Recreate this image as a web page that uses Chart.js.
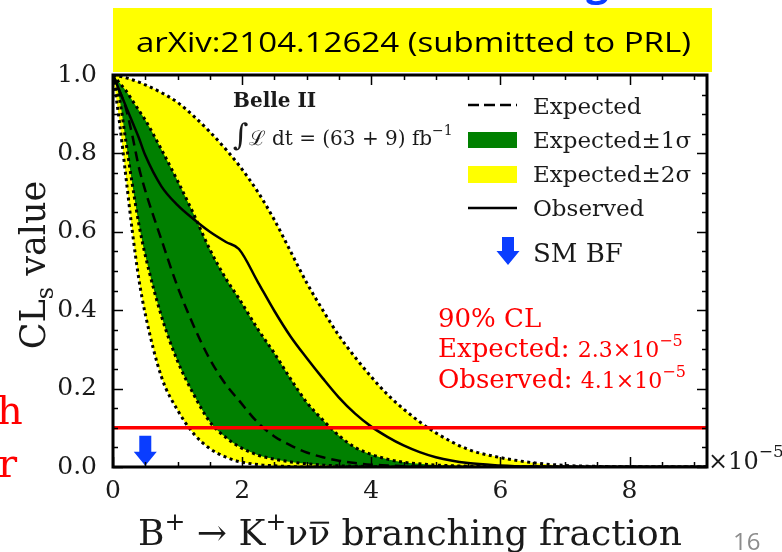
<!DOCTYPE html>
<html><head><meta charset="utf-8">
<script src="https://cdn.jsdelivr.net/npm/chart.js@4.4.1/dist/chart.umd.min.js"></script>
<style>
html,body{margin:0;padding:0;background:#fff;width:782px;height:552px;overflow:hidden;}
canvas{position:absolute;left:0;top:0;}
</style></head>
<body>
<canvas id="c" width="782" height="552"></canvas>
<script>
// ---- data (branching fraction in units of 1e-5) ----
const bf    = [0,0.1,0.2,0.3,0.4,0.5,0.75,1.0,1.25,1.5,1.75,1.95,2.25,2.5,2.75,3.0,3.25,3.5,3.75,4.0,4.25,4.5,4.75,5.0,5.5,6.0,6.5,7.0,7.5,8.0,9.2];
const lo2   = [1.0,0.88,0.74,0.60,0.48,0.39,0.23,0.145,0.085,0.047,0.025,0.014,0.006,0.003,0.001,0,0,0,0,0,0,0,0,0,0,0,0,0,0,0,0];
const lo1   = [1.0,0.94,0.83,0.72,0.62,0.54,0.385,0.27,0.185,0.115,0.075,0.052,0.03,0.02,0.013,0.008,0.005,0.003,0.002,0.001,0,0,0,0,0,0,0,0,0,0,0];
const expd  = [1.0,0.96,0.915,0.845,0.765,0.705,0.58,0.46,0.36,0.275,0.21,0.17,0.112,0.078,0.055,0.037,0.025,0.016,0.01,0.006,0.004,0.002,0.001,0.0005,0,0,0,0,0,0,0];
const up1   = [1.0,0.98,0.96,0.935,0.91,0.885,0.81,0.73,0.645,0.555,0.48,0.43,0.35,0.29,0.225,0.165,0.12,0.08,0.05,0.032,0.02,0.012,0.008,0.005,0.002,0.001,0,0,0,0,0];
const up2   = [1.0,0.997,0.993,0.988,0.982,0.975,0.955,0.93,0.895,0.855,0.81,0.77,0.70,0.63,0.55,0.47,0.40,0.335,0.28,0.23,0.185,0.148,0.115,0.087,0.045,0.024,0.011,0.004,0.0015,0.0005,0];
const obs   = [1.0,0.96,0.92,0.88,0.84,0.795,0.716,0.668,0.632,0.60,0.574,0.556,0.47,0.398,0.333,0.278,0.226,0.177,0.136,0.103,0.077,0.055,0.038,0.025,0.01,0.004,0.001,0,0,0,0];
const clX   = [0, 9.2];
const clY   = [0.1, 0.1];
const smBF  = 0.5;            // SM branching fraction marker
const smArrowY = [0.08, 0.003];
const xTicks = [0,2,4,6,8];
const yTicks = [0,0.2,0.4,0.6,0.8,1.0];
const xRange = [0, 9.2];
const yRange = [0, 1.0];

const pts = (xs, ys) => xs.map((v,i)=>({x:v, y:ys[i]}));
const SERIF = "'DejaVu Serif', serif";
const dots = [3,3.5];

function fontOf(p){ return (p.b?'bold ':'') + p.s + 'px ' + (p.f||SERIF); }
function rich(ctx, parts, x, y, align){
  let w=0;
  parts.forEach(p=>{ctx.font=fontOf(p); p.w=ctx.measureText(p.t).width; w+=p.w;});
  let cx = align==='center' ? x-w/2 : (align==='right'? x-w : x);
  parts.forEach(p=>{
    ctx.font=fontOf(p);
    ctx.fillText(p.t, cx, y+(p.dy||0));
    if(p.bar){
      ctx.save(); ctx.lineWidth=2; ctx.strokeStyle=ctx.fillStyle;
      ctx.beginPath(); ctx.moveTo(cx+2, y-p.s*0.62); ctx.lineTo(cx+p.w-1, y-p.s*0.62); ctx.stroke(); ctx.restore();
    }
    cx+=p.w;
  });
  return w;
}
function arrow(ctx, cx, yTop, yBot, color){
  const hw=11.5, sw=6, hl=14;
  ctx.fillStyle=color;
  ctx.beginPath();
  ctx.moveTo(cx-sw, yTop); ctx.lineTo(cx+sw, yTop); ctx.lineTo(cx+sw, yBot-hl);
  ctx.lineTo(cx+hw, yBot-hl); ctx.lineTo(cx, yBot); ctx.lineTo(cx-hw, yBot-hl);
  ctx.lineTo(cx-sw, yBot-hl); ctx.closePath(); ctx.fill();
}

const decor = {
  id:'decor',
  afterDatasetsDraw(chart){
    const {ctx, chartArea:a, scales:{x,y}} = chart;
    ctx.save();
    arrow(ctx, x.getPixelForValue(smBF), y.getPixelForValue(smArrowY[0]), y.getPixelForValue(smArrowY[1]), '#0a3dff');
    ctx.strokeStyle='#000'; ctx.lineWidth=1.5;
    ctx.beginPath();
    for(let k=0;k<=Math.round(xRange[1]/0.5);k++){
      const v=k*0.5; if(v>xRange[1]) break;
      const px=Math.round(x.getPixelForValue(v))+0.5; const L=(k%4===0)?10:5;
      ctx.moveTo(px,a.bottom); ctx.lineTo(px,a.bottom-L);
      ctx.moveTo(px,a.top); ctx.lineTo(px,a.top+L);
    }
    for(let k=0;k<=20;k++){
      const py=Math.round(y.getPixelForValue(k*0.05))+0.5; const L=(k%4===0)?10:5;
      ctx.moveTo(a.left,py); ctx.lineTo(a.left+L,py);
      ctx.moveTo(a.right,py); ctx.lineTo(a.right-L,py);
    }
    ctx.stroke();
    ctx.lineWidth=3;
    ctx.strokeRect(a.left, a.top, a.right-a.left, a.bottom-a.top);
    ctx.restore();
  },
  afterDraw(chart){
    const {ctx, chartArea:a} = chart;
    ctx.save();
    ctx.textBaseline='alphabetic';
    // blue cut-off letter at very top (slide title remnant)
    ctx.fillStyle='#0a3dff'; ctx.font="bold 40px 'Open Sans'"; ctx.fillText('g', 586, -4);
    // banner
    ctx.fillStyle='#ffff00'; ctx.fillRect(113, 8, 599, 64);
    ctx.fillStyle='#000';
    ctx.font="28px 'Open Sans'";
    const bt='arXiv:2104.12624 (submitted to PRL)';
    const bw=ctx.measureText(bt).width;
    ctx.save(); ctx.translate(136,52); ctx.scale(555/bw,1); ctx.fillText(bt,0,0); ctx.restore();
    // red cut-off letters at left
    ctx.fillStyle='#ff0000'; ctx.font='40px '+SERIF;
    ctx.fillText('h', -3, 424); ctx.fillText('r', -2, 477);
    // page number
    ctx.fillStyle='#8c8c8c'; ctx.font="24px 'Open Sans'"; ctx.fillText('16', 733, 550);

    // axis titles
    ctx.fillStyle='#1a1a1a';
    rich(ctx,[{t:'B',s:36},{t:'+',s:25,dy:-15},{t:' → K',s:36},{t:'+',s:25,dy:-15},{t:'ν',s:36},{t:'ν',s:36,bar:true},{t:' branching fraction',s:36}], (a.left+a.right)/2, 545, 'center');
    ctx.save(); ctx.translate(45, (a.top+a.bottom)/2-6); ctx.rotate(-Math.PI/2);
    rich(ctx,[{t:'CL',s:35},{t:'s',s:24,dy:8},{t:' value',s:35}],0,0,'center');
    ctx.restore();
    rich(ctx,[{t:'×10',s:24},{t:'−5',s:17,dy:-12}], a.right+1, 469, 'left');

    // Belle II label
    rich(ctx,[{t:'Belle II',s:20,b:true}],233,107,'left');
    rich(ctx,[{t:'∫',s:30},{t:'ℒ',s:20},{t:' dt = (63 + 9) fb',s:20},{t:'−1',s:14,dy:-10}],233,145,'left');

    // legend
    ctx.save();
    ctx.strokeStyle='#000'; ctx.lineWidth=2.5;
    ctx.setLineDash([11,5]); ctx.beginPath(); ctx.moveTo(468,105); ctx.lineTo(517,105); ctx.stroke();
    ctx.setLineDash([]); ctx.beginPath(); ctx.moveTo(468,208); ctx.lineTo(517,208); ctx.stroke();
    ctx.fillStyle='#008000'; ctx.fillRect(468,132,49,16);
    ctx.fillStyle='#ffff00'; ctx.fillRect(468,166,49,17);
    ctx.restore();
    arrow(ctx, 508, 237, 265, '#0a3dff');
    ctx.fillStyle='#1a1a1a';
    rich(ctx,[{t:'Expected',s:23}],533,114,'left');
    rich(ctx,[{t:'Expected±1σ',s:23}],533,148,'left');
    rich(ctx,[{t:'Expected±2σ',s:23}],533,182,'left');
    rich(ctx,[{t:'Observed',s:23}],533,216,'left');
    rich(ctx,[{t:'SM BF',s:26}],533,262,'left');

    // 90% CL annotation
    ctx.fillStyle='#ff0000';
    rich(ctx,[{t:'90% CL',s:26}],438,327,'left');
    rich(ctx,[{t:'Expected: ',s:26},{t:'2.3×10',s:22},{t:'−5',s:16,dy:-11}],438,357,'left');
    rich(ctx,[{t:'Observed: ',s:26},{t:'4.1×10',s:22},{t:'−5',s:16,dy:-11}],438,388,'left');
    ctx.restore();
  }
};

const edge = (data, extra) => Object.assign({
  data, borderColor:'#000', borderWidth:3, borderDash:dots, pointRadius:0,
  cubicInterpolationMode:'monotone', fill:false
}, extra||{});

new Chart(document.getElementById('c'), {
  type:'line',
  data:{ datasets:[
    edge(pts(bf,up2), {label:'Expected±2σ', fill:1, backgroundColor:'#ffff00', order:6}),
    edge(pts(bf,lo2), {label:'lo2', order:5}),
    edge(pts(bf,up1), {label:'Expected±1σ', fill:3, backgroundColor:'#008000', order:4}),
    edge(pts(bf,lo1), {label:'lo1', order:3}),
    {label:'Expected', data:pts(bf,expd), borderColor:'#000', borderWidth:2.5, borderDash:[10,6], pointRadius:0, cubicInterpolationMode:'monotone', fill:false, order:2},
    {label:'Observed', data:pts(bf,obs), borderColor:'#000', borderWidth:2.5, pointRadius:0, cubicInterpolationMode:'monotone', fill:false, order:1},
    {label:'90% CL', data:pts(clX,clY), borderColor:'#ff0000', borderWidth:3.5, pointRadius:0, fill:false, order:0}
  ]},
  options:{
    responsive:false, animation:false, devicePixelRatio:1,
    layout:{padding:{left:0, top:75, right:75, bottom:0}},
    plugins:{legend:{display:false}, tooltip:{enabled:false}, filler:{drawTime:'beforeDatasetsDraw'}},
    scales:{
      x:{type:'linear', min:xRange[0], max:xRange[1], grid:{display:false}, border:{display:false},
         afterBuildTicks:s=>{s.ticks=xTicks.map(v=>({value:v}));},
         afterFit:s=>{s.height=85;},
         ticks:{padding:1, autoSkip:false, maxRotation:0, color:'#1a1a1a', font:{family:'DejaVu Serif', size:25}, callback:v=>String(v)}},
      y:{type:'linear', min:yRange[0], max:yRange[1], grid:{display:false}, border:{display:false},
         afterBuildTicks:s=>{s.ticks=yTicks.map(v=>({value:v}));},
         afterFit:s=>{s.width=113;},
         ticks:{padding:8, autoSkip:false, color:'#1a1a1a', font:{family:'DejaVu Serif', size:25}, callback:v=>Number(v).toFixed(1)}}
    }
  },
  plugins:[decor]
});
</script>
</body></html>
